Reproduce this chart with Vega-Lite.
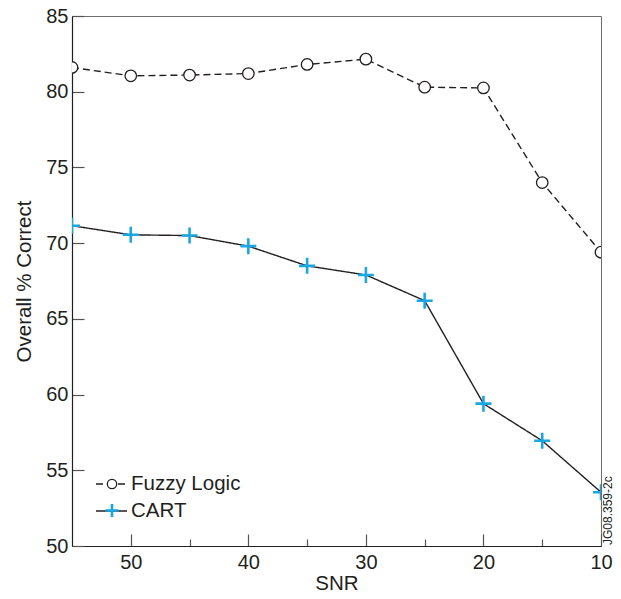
{
  "$schema": "https://vega.github.io/schema/vega-lite/v6.json",
  "width": 529,
  "height": 530,
  "autosize": "none",
  "padding": {"left": 72, "top": 16, "right": 20, "bottom": 53},
  "background": "white",
  "config": {
    "font": "Liberation Sans",
    "view": {"stroke": "#6d6d6d", "strokeWidth": 1},
    "axis": {
      "grid": false,
      "labelFont": "Liberation Sans",
      "labelFontSize": 20,
      "labelColor": "#231f20",
      "titleFont": "Liberation Sans",
      "titleFontSize": 20.5,
      "titleFontWeight": "normal",
      "titleColor": "#231f20",
      "domainColor": "#231f20",
      "domainWidth": 1.2,
      "tickColor": "#555555",
      "tickWidth": 1.2
    }
  },
  "data": {
    "values": [
      {"series": "Fuzzy Logic", "snr": 55, "pct": 81.6},
      {"series": "Fuzzy Logic", "snr": 50, "pct": 81.05},
      {"series": "Fuzzy Logic", "snr": 45, "pct": 81.1},
      {"series": "Fuzzy Logic", "snr": 40, "pct": 81.2},
      {"series": "Fuzzy Logic", "snr": 35, "pct": 81.8},
      {"series": "Fuzzy Logic", "snr": 30, "pct": 82.15},
      {"series": "Fuzzy Logic", "snr": 25, "pct": 80.3},
      {"series": "Fuzzy Logic", "snr": 20, "pct": 80.25},
      {"series": "Fuzzy Logic", "snr": 15, "pct": 74.0},
      {"series": "Fuzzy Logic", "snr": 10, "pct": 69.4},
      {"series": "CART", "snr": 55, "pct": 71.15},
      {"series": "CART", "snr": 50, "pct": 70.55},
      {"series": "CART", "snr": 45, "pct": 70.5},
      {"series": "CART", "snr": 40, "pct": 69.8},
      {"series": "CART", "snr": 35, "pct": 68.5},
      {"series": "CART", "snr": 30, "pct": 67.9},
      {"series": "CART", "snr": 25, "pct": 66.2},
      {"series": "CART", "snr": 20, "pct": 59.4},
      {"series": "CART", "snr": 15, "pct": 56.95},
      {"series": "CART", "snr": 10, "pct": 53.55}
    ]
  },
  "layer": [
    {
      "mark": {"type": "line", "color": "#231f20", "strokeWidth": 1.4, "clip": true},
      "encoding": {
        "x": {
          "field": "snr",
          "type": "quantitative",
          "scale": {"domain": [10, 55], "reverse": true, "nice": false, "zero": false},
          "axis": {
            "title": "SNR",
            "values": [50, 45, 40, 35, 30, 25, 20, 15, 10],
            "labelExpr": "datum.value % 10 === 0 ? datum.label : ''",
            "tickSize": {"condition": {"test": "datum.value % 10 === 0", "value": -12}, "value": -7},
            "labelPadding": 18,
            "labelFlush": false,
            "labelOverlap": false,
            "titleY": 27,
            "titleBaseline": "top"
          }
        },
        "y": {
          "field": "pct",
          "type": "quantitative",
          "scale": {"domain": [50, 85], "nice": false, "zero": false},
          "axis": {
            "title": "Overall % Correct",
            "values": [50, 55, 60, 65, 70, 75, 80, 85],
            "tickSize": -12,
            "labelPadding": 16,
            "labelFlush": false,
            "labelOverlap": false,
            "titleX": -38,
            "titleY": 265
          }
        },
        "strokeDash": {
          "field": "series",
          "type": "nominal",
          "sort": ["Fuzzy Logic", "CART"],
          "scale": {"range": [[7, 4], [1, 0]]},
          "legend": {
            "title": null,
            "orient": "none",
            "legendX": 23,
            "legendY": 451.5,
            "padding": 0,
            "symbolType": "stroke",
            "symbolSize": 961,
            "symbolStrokeColor": "#231f20",
            "symbolStrokeWidth": 1.4,
            "labelFontSize": 20.5,
            "labelFont": "Liberation Sans",
            "labelColor": "#231f20",
            "labelOffset": 3,
            "rowPadding": -8,
            "encode": {
              "symbols": {
                "update": {
                  "strokeDash": {"signal": "datum.value === 'Fuzzy Logic' ? [5, 21] : [1, 0]"}
                }
              }
            }
          }
        }
      }
    },
    {
      "mark": {"type": "point", "filled": false, "fill": "white", "opacity": 1, "size": 256, "clip": true},
      "encoding": {
        "x": {"field": "snr", "type": "quantitative"},
        "y": {"field": "pct", "type": "quantitative"},
        "shape": {
          "field": "series",
          "type": "nominal",
          "scale": {
            "domain": ["Fuzzy Logic", "CART"],
            "range": [
              "M-0.72,0A0.72,0.72 0 1,0 0.72,0A0.72,0.72 0 1,0 -0.72,0Z",
              "M-1,0H1M0,-1V1"
            ]
          },
          "legend": {
            "title": null,
            "orient": "none",
            "legendX": 32,
            "legendY": 460.5,
            "padding": 0,
            "symbolSize": 169,
            "symbolStrokeWidth": 2,
            "symbolFillColor": "white",
            "labelExpr": "''",
            "labelFontSize": 1,
            "rowPadding": 7,
            "encode": {
              "symbols": {
                "update": {
                  "strokeWidth": {"signal": "datum.value === 'CART' ? 2.2 : 1.1"}
                }
              }
            }
          }
        },
        "stroke": {
          "field": "series",
          "type": "nominal",
          "scale": {"domain": ["Fuzzy Logic", "CART"], "range": ["#231f20", "#1aa6e0"]}
        },
        "strokeWidth": {
          "field": "series",
          "type": "nominal",
          "scale": {"domain": ["Fuzzy Logic", "CART"], "range": [1.3, 2.6]},
          "legend": null
        }
      }
    },
    {
      "data": {"values": [{"note": "JG08.359-2c"}]},
      "mark": {"type": "text", "angle": 270, "align": "left", "baseline": "top", "fontSize": 12, "font": "Liberation Sans", "color": "#231f20", "dx": 1, "dy": 2},
      "encoding": {
        "text": {"field": "note"},
        "x": {"datum": 10},
        "y": {"datum": 50}
      }
    }
  ]
}
